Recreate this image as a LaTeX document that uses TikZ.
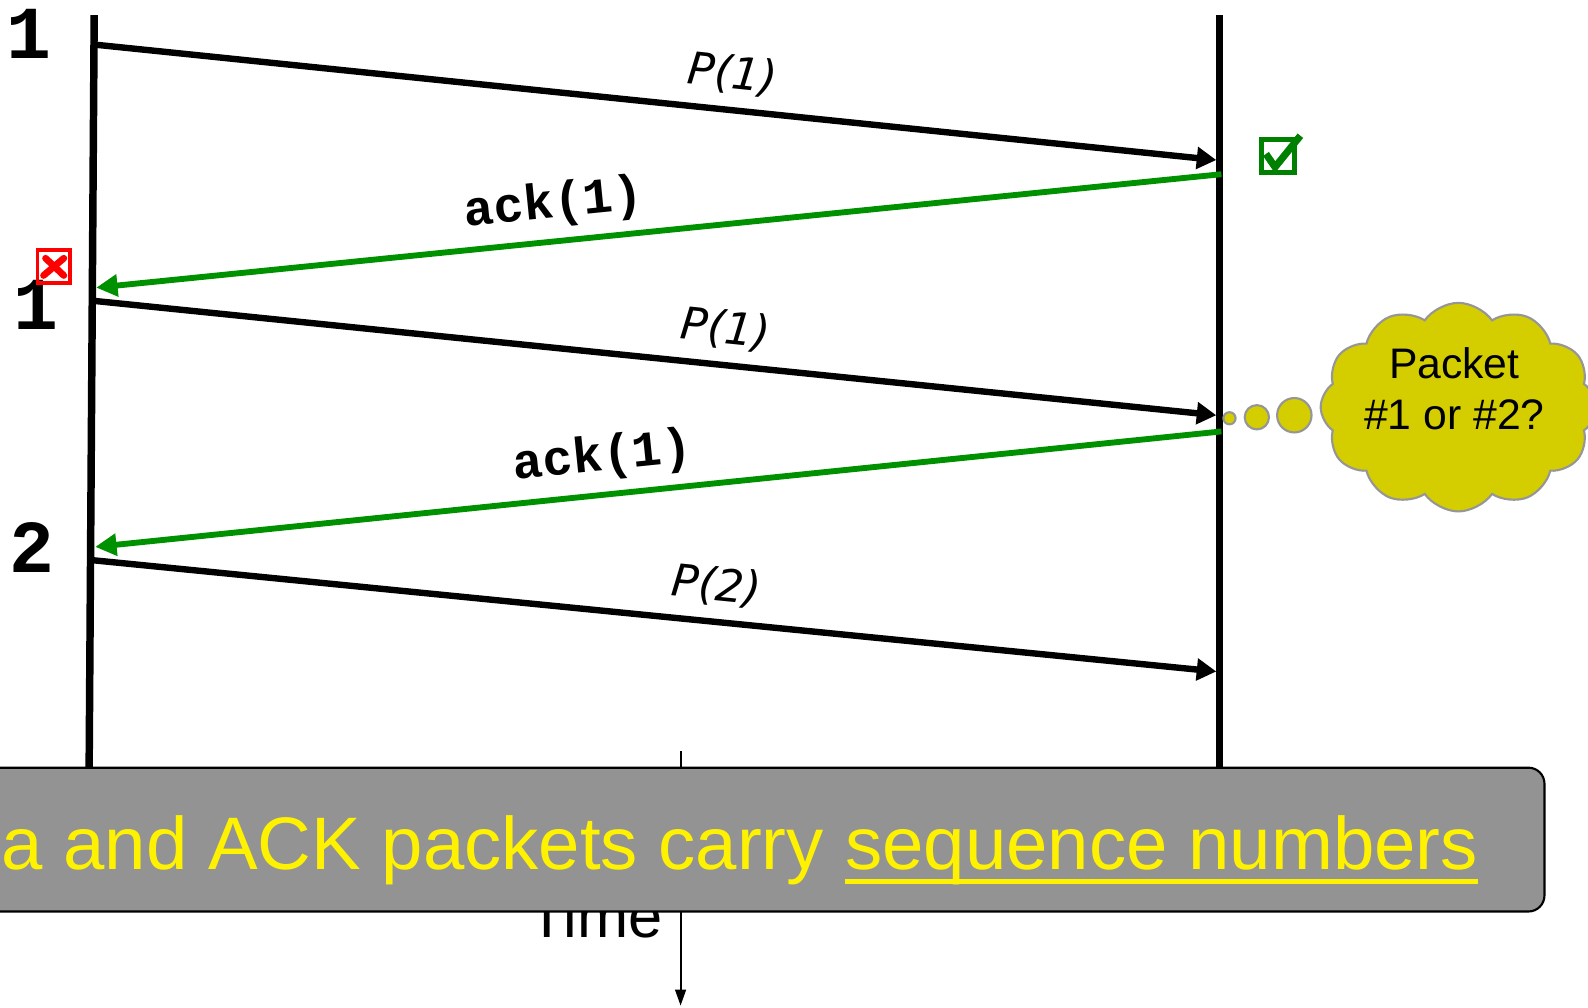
\documentclass[tikz,border=0pt]{standalone}
\usepackage{fontspec}
\setmainfont{Liberation Sans}
\newfontfamily\codefont{Liberation Mono}
\newfontfamily\pktfont{DejaVu Sans}
\usetikzlibrary{arrows.meta,shapes.symbols,calc}
\definecolor{AckGreen}{RGB}{0,145,0}
\definecolor{MarkGreen}{RGB}{0,128,0}
\definecolor{CloudYellow}{RGB}{212,206,0}
\definecolor{CloudEdge}{RGB}{150,150,150}
\definecolor{BannerGray}{RGB}{147,147,147}

\begin{document}
\begin{tikzpicture}[
x=0.02cm,y=-0.02cm,
timeline/.style={line width=4.2pt,black},
pkt/.style={-{Triangle[length=11pt,width=12pt]},line width=3.6pt,black},
ack/.style={-{Triangle[length=12pt,width=12pt]},line width=3.3pt,draw=AckGreen},
pktlabel/.style={font=\pktfont\itshape\fontsize{25}{30}\selectfont,sloped,above=5pt,inner sep=2pt},
acklabel/.style={font=\codefont\bfseries\fontsize{28}{32}\selectfont,sloped,above=4pt,inner sep=2pt},
seqnum/.style={font=\codefont\bfseries\fontsize{42}{46}\selectfont,inner sep=0pt},
bubble/.style={circle,fill=CloudYellow,draw=CloudEdge,line width=1.2pt,inner sep=0pt},
bannertext/.style={anchor=base west,inner sep=0pt,text=yellow,font=\fontsize{41.8}{48}\selectfont}
]

\clip (0,0) rectangle (1568,995);

% sender and receiver
\coordinate (stop) at (93,15);
\coordinate (sbot) at (88,760);
\coordinate (rtop) at (1204,15);
\coordinate (rbot) at (1204,760);
\draw[timeline] (stop) -- (sbot);
\draw[timeline] (rtop) -- (rbot);

\coordinate (s1) at (93,44);
\coordinate (r1) at (1201,158);
\coordinate (r1a) at (1206,172);
\coordinate (s1a) at (95,284);
\coordinate (s2) at (92,297);
\coordinate (r2) at (1201,410);
\coordinate (r2a) at (1206,426);
\coordinate (s2a) at (94,540);
\coordinate (s3) at (90,553);
\coordinate (r3) at (1201,663);

\draw[pkt] (s1) -- node[pktlabel,pos=0.566] (p1) {P(1)} (r1);
\draw[ack] (r1a) -- node[acklabel,pos=0.59] (a1) {ack(1)} (s1a);
\draw[pkt] (s2) -- node[pktlabel,pos=0.56] (p1b) {P(1)} (r2);
\draw[ack] (r2a) -- node[acklabel,pos=0.546] (a1b) {ack(1)} (s2a);
\draw[pkt] (s3) -- node[pktlabel,pos=0.553] (p2) {P(2)} (r3);

\node[seqnum] (n1) at (29,33) {1};
\node[seqnum] (n1b) at (35,301) {1};
\node[seqnum] (n2) at (32,541) {2};

% marks
\node[draw=MarkGreen,line width=3pt,minimum size=0.66cm,inner sep=0pt] (ok) at (1262,154) {};
\draw[MarkGreen,line width=4pt] ($(ok.center)+(-12,-2)$) -- ($(ok.center)+(-3,11)$) -- ($(ok.center)+(22,-20)$);
\node[draw=red,line width=2.2pt,minimum size=0.64cm,inner sep=0pt] (lost) at (53,263) {};
\draw[red,line width=3.8pt,line cap=round] ($(lost.center)+(-8,-8)$) -- ($(lost.center)+(10,9)$);
\draw[red,line width=3.8pt,line cap=round] ($(lost.center)+(10,-8)$) -- ($(lost.center)+(-10,9)$);

% thought cloud
\node[bubble,minimum size=0.24cm] (b1) at (1214,413) {};
\node[bubble,minimum size=0.48cm] (b2) at (1241,412) {};
\node[bubble,minimum size=0.68cm] (b3) at (1278,410) {};
\node[cloud,cloud puffs=12,cloud puff arc=110,aspect=1.32,fill=CloudYellow,draw=CloudEdge,line width=1.2pt,
  minimum width=5.44cm,minimum height=4.12cm] (thought) at (1440,402) {};
\node[align=center,inner sep=0pt,font=\fontsize{24}{28.5}\selectfont] (qtext) at (1436,384) {Packet\\\#1 or \#2?};

% time axis
\coordinate (ttop) at (672,742);
\coordinate (tbot) at (672,993);
\draw[-{Triangle[length=9pt,width=6pt]},line width=1.2pt] (ttop) -- (tbot);
\node[anchor=base,inner sep=0pt,font=\fontsize{34.5}{40}\selectfont] (time) at (588,926) {Time};

% banner
\draw[fill=BannerGray,line width=1.2pt,rounded corners=9pt] (-40,758) rectangle (1525,900);
\node[bannertext] (claim) at (1,859) {a and ACK packets carry};
\node[bannertext,xshift=11.6pt] (seq) at (claim.base east) {sequence numbers};
\draw[yellow,line width=2.8pt] ($(seq.base west)+(0,11)$) -- ($(seq.base east)+(0,11)$);

\end{tikzpicture}
\end{document}
